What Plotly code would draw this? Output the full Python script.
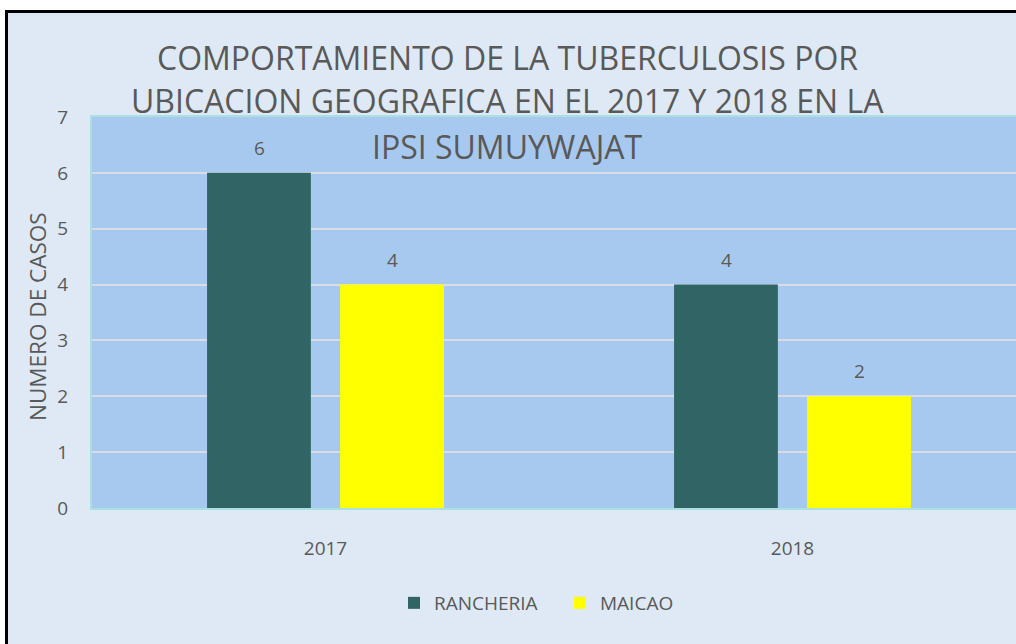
import plotly.graph_objects as go

years = ["2017", "2018"]
rancheria = [6, 4]
maicao = [4, 2]
series_names = ["RANCHERIA", "MAICAO"]
title_lines = ["COMPORTAMIENTO DE LA TUBERCULOSIS POR",
               "UBICACION GEOGRAFICA EN EL 2017 Y 2018 EN LA",
               "IPSI SUMUYWAJAT"]
y_title = "NUMERO DE CASOS"

W, H = 1016, 644
L, R, T, B = 92, 0, 117, 136
pw, ph = W - L - R, H - T - B

def px_x(p):
    return (p - L) / pw

def px_y(p):
    return (H - B - p) / ph

TXT = "#595959"
FONT = "Open Sans"
FRAME = "#dee9f5"
colors = ["#316565", "#ffff00"]

fig = go.Figure()
for name, vals, col in zip(series_names, [rancheria, maicao], colors):
    fig.add_trace(go.Bar(x=years, y=vals, name=name,
                         marker=dict(color=col, line=dict(width=0))))

# data labels above bars
for i, vals in enumerate([rancheria, maicao]):
    for j, v in enumerate(vals):
        fig.add_annotation(x=j, y=v, xref="x", yref="y", text=str(v),
                           showarrow=False, xshift=(-66.5 if i == 0 else 66.5),
                           yshift=25, yanchor="middle",
                           font=dict(size=19, color=TXT, family=FONT))

# title lines
for line, yc in zip(title_lines, [57, 101, 146]):
    fig.add_annotation(x=px_x(507), y=px_y(yc), xref="paper", yref="paper",
                       text=line, showarrow=False, xanchor="center",
                       yanchor="middle",
                       font=dict(size=32, color=TXT, family=FONT))

# y-axis title
fig.add_annotation(x=px_x(37), y=px_y(317), xref="paper", yref="paper",
                   text=y_title, showarrow=False, textangle=-90,
                   xanchor="center", yanchor="middle",
                   font=dict(size=22.5, color=TXT, family=FONT))

# outer white strips and black frame
fig.add_shape(type="rect", xref="paper", yref="paper", layer="above",
              x0=px_x(0), x1=px_x(W), y0=px_y(10), y1=px_y(0),
              fillcolor="white", line=dict(width=0))
fig.add_shape(type="rect", xref="paper", yref="paper", layer="above",
              x0=px_x(0), x1=px_x(5), y0=px_y(H), y1=px_y(0),
              fillcolor="white", line=dict(width=0))
fig.add_shape(type="line", xref="paper", yref="paper", layer="above",
              x0=px_x(5), x1=px_x(W), y0=px_y(11.5), y1=px_y(11.5),
              line=dict(color="black", width=3))
fig.add_shape(type="line", xref="paper", yref="paper", layer="above",
              x0=px_x(6.5), x1=px_x(6.5), y0=px_y(10), y1=px_y(H),
              line=dict(color="black", width=3))

fig.update_layout(
    width=W, height=H,
    margin=dict(l=L, r=R, t=T, b=B, pad=0),
    paper_bgcolor=FRAME,
    plot_bgcolor="#a8c9ef",
    barmode="group", bargap=0.43, bargroupgap=0.22,
    font=dict(family=FONT, color=TXT),
    showlegend=True,
    legend=dict(orientation="h", x=px_x(560), xanchor="center",
                y=px_y(603), yanchor="middle", bgcolor="rgba(0,0,0,0)",
                font=dict(size=19, color=TXT, family=FONT),
                entrywidth=121, entrywidthmode="pixels",
                traceorder="normal"),
)
fig.update_xaxes(type="category", range=[-0.5, -0.5 + pw / 467.0],
                 showline=True, linecolor="#a9e0e0", linewidth=2, mirror=True,
                 tickfont=dict(size=19, color=TXT, family=FONT),
                 ticklabelstandoff=22,
                 ticks="", showgrid=False)
fig.update_yaxes(range=[0, 7], dtick=1, showgrid=True, gridcolor="#d9dde3",
                 gridwidth=1.5, zeroline=False,
                 showline=True, linecolor="#a9e0e0", linewidth=2, mirror=False,
                 tickfont=dict(size=19, color=TXT, family=FONT),
                 ticklabelstandoff=18)

fig.write_html("out.html", config={"displayModeBar": False},
               post_script="document.body.style.margin='0';")
